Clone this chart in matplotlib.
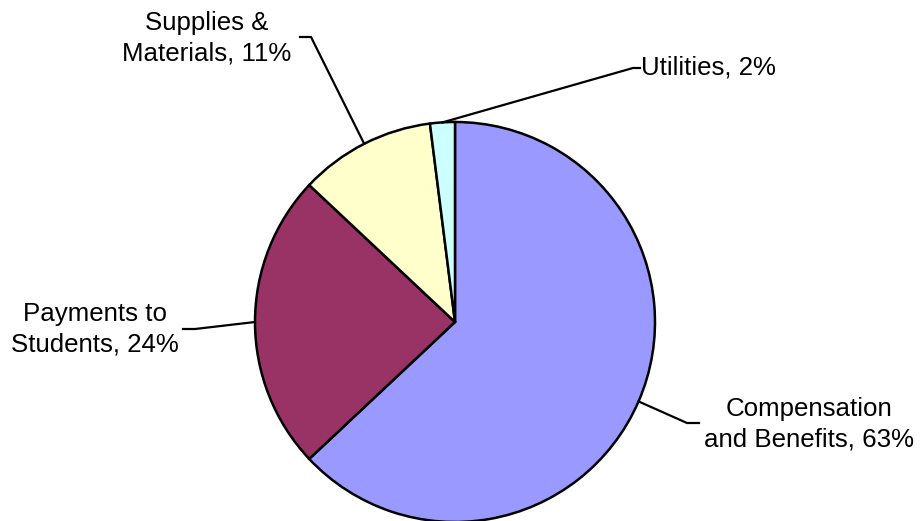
import numpy as np
import matplotlib
matplotlib.use("Agg")
import matplotlib.pyplot as plt

################################################################################
#                                   Data                                       #
################################################################################

labels = ["Compensation\nand Benefits", "Payments to\nStudents", "Supplies &\nMaterials", "Utilities"]
values = [63, 24, 11, 2]
colors = ["#9999FF", "#993366", "#FFFFCC", "#CCFFFF"]

W, H = 921, 521
matplotlib.rcParams.update({'font.family': ['Liberation Sans', 'DejaVu Sans'], 'font.size': 18.6})

def fy(py):
    # pixel row -> data y
    return H - py

# label layout: text position, alignment, elbow point, end point (pixel coords)
layout = [
    dict(text=(809, 424), ha='center', elbow=(687, 423), end=(699, 423)),
    dict(text=(95, 329), ha='center', elbow=(195, 329), end=(183, 329)),
    dict(text=(207, 38), ha='center', elbow=(311, 37), end=(300, 37)),
    dict(text=(641, 68), ha='left', elbow=(633, 68), end=(640, 68)),
]

fig = plt.figure(figsize=(W / 100, H / 100), dpi=100)
ax = fig.add_axes([0, 0, 1, 1])

cx, cy, r = 455, fy(322), 200
wedges, _ = ax.pie(values, colors=colors, startangle=90, counterclock=False,
                   center=(cx, cy), radius=r,
                   wedgeprops=dict(edgecolor='black', linewidth=1.8))

for w, lab, v, lay in zip(wedges, labels, values, layout):
    mid = np.deg2rad((w.theta1 + w.theta2) / 2)
    x0, y0 = cx + r * np.cos(mid), cy + r * np.sin(mid)
    ex, ey = lay['elbow']
    tx, ty = lay['end']
    ax.plot([x0, ex, tx], [y0, fy(ey), fy(ty)], color='black', lw=1.6,
            solid_joinstyle='miter', clip_on=False)
    ax.text(lay['text'][0], fy(lay['text'][1]), "%s, %d%%" % (lab, v),
            ha=lay['ha'], va='center', multialignment='center', linespacing=1.35)

ax.set_xlim(0, W)
ax.set_ylim(0, H)
ax.set_aspect('equal')
ax.axis('off')

plt.savefig("out.png", dpi=100)
